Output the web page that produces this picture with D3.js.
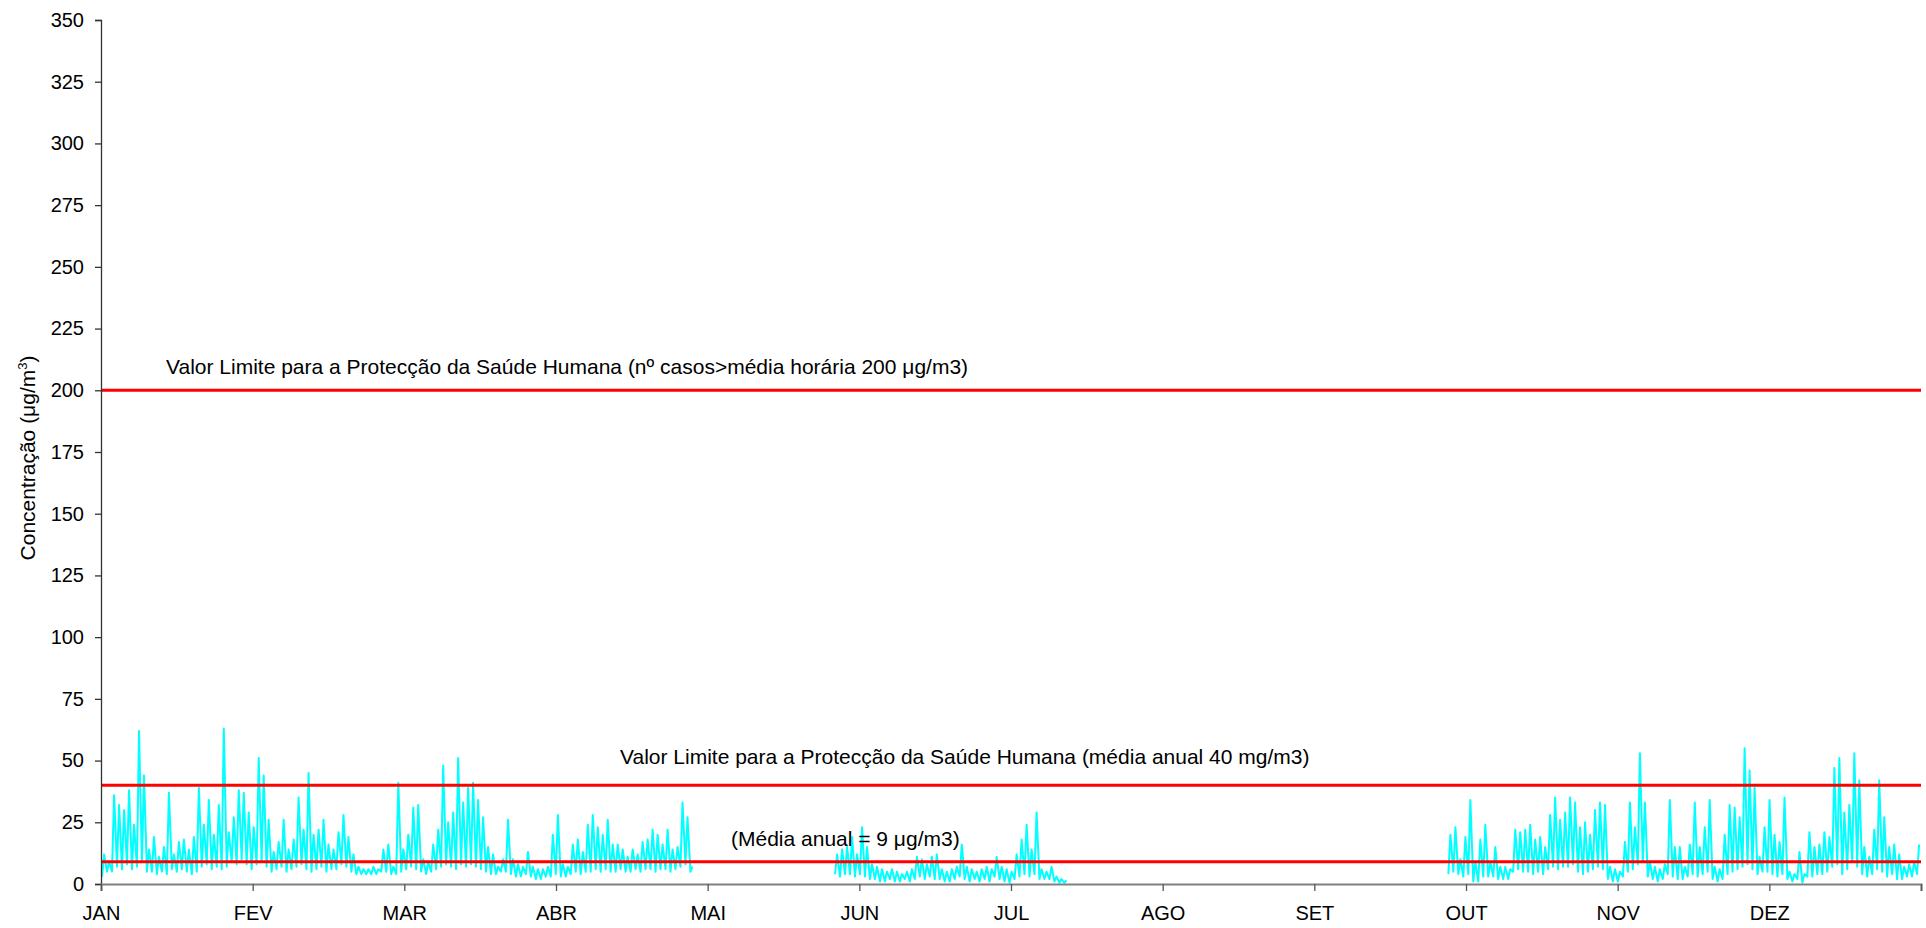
<!DOCTYPE html>
<html>
<head>
<meta charset="utf-8">
<script src="https://cdn.jsdelivr.net/npm/d3@7"></script>
<style>
  html, body { margin: 0; padding: 0; background: #fff; }
  svg text { font-family: "Liberation Sans", Arial, sans-serif; fill: #000; }
</style>
</head>
<body>
<svg id="chart" width="1926" height="928"></svg>
<script>
// ---- Data (daily low / high of hourly concentration) ----
const months = ["JAN","FEV","MAR","ABR","MAI","JUN","JUL","AGO","SET","OUT","NOV","DEZ"];
const yTicks = [0,25,50,75,100,125,150,175,200,225,250,275,300,325,350];

// Segment 1: day 0 .. 118
const seg1StartDay = 0;
const seg1Lo = [3,5,5,7,6,8,6,7,9,5,5,4,5,4,6,5,6,5,4,5,7,8,6,7,6,7,9,8,10,8,
                6,8,9,7,5,6,7,5,6,7,8,6,5,6,7,5,6,6,8,7,5,4,4,4,4,4,5,5,4,4,
                5,6,7,6,5,4,5,6,7,8,7,6,8,7,8,7,6,5,4,4,5,5,4,3,3,4,3,2,2,3,
                3,4,3,3,4,5,4,5,5,6,5,6,5,5,6,5,5,6,5,6,6,5,6,6,5,6,7,8,5];
const seg1Hi = [12,9,36,32,30,38,24,62,44,14,19,11,15,37,12,17,18,14,19,39,24,34,20,32,63,21,27,38,37,29,
                23,51,44,26,13,17,26,14,18,35,22,45,20,22,26,16,14,21,28,19,12,7,6,6,7,6,14,16,7,41,
                14,20,31,32,10,9,16,22,48,25,29,51,33,39,41,34,27,15,12,7,10,26,10,8,7,13,7,6,6,7,
                20,28,8,7,16,18,13,24,28,23,20,26,16,16,14,11,14,12,17,18,22,20,16,22,14,15,33,27,7];

// Segment 2: day 147 .. 193
const seg2StartDay = 147;
const seg2Lo = [4,3,4,4,3,4,3,2,2,1,1,2,1,1,2,1,2,3,2,3,2,2,1,1,2,3,2,1,2,1,
                2,1,3,2,1,0.5,2,3,4,3,4,2,2,2,1,0.5,0.5];
const seg2Hi = [12,14,15,19,12,23,15,8,7,6,5,6,5,4,5,6,11,10,8,11,12,6,5,6,7,16,7,6,5,6,
                7,6,11,7,6,5,12,18,24,14,29,6,5,7,3,2,1.5];

// Segment 3: day 270 .. 364
const seg3StartDay = 270;
const seg3Lo = [4,5,4,3,4,1,1,3,3,3,2,2,2,5,6,5,5,4,5,4,6,7,6,7,7,8,5,4,5,6,
                7,6,2,1,1,3,5,6,8,9,3,2,1,2,4,3,2,2,3,4,3,4,5,2,1,2,4,5,6,7,
                8,6,4,5,5,4,3,4,2,1,2,0.5,3,3,4,4,5,7,8,4,6,9,7,4,3,4,6,5,3,4,
                2,2,3,3,4];
const seg3Hi = [20,23,10,19,34,9,18,24,9,15,7,7,6,22,21,22,24,18,19,15,28,35,26,29,35,33,23,25,20,30,
                33,32,7,6,5,17,33,23,53,33,9,7,6,8,34,15,15,7,16,33,15,23,34,7,6,20,32,31,27,55,
                46,39,11,23,34,20,17,35,5,4,13,4,21,15,16,21,19,47,51,29,32,53,42,15,11,22,42,27,15,16,
                12,7,8,9,16];

// Reference levels
const limitHourly = 200;
const limitAnnual = 40;
const annualMean = 9;
const labelHourly = "Valor Limite para a Protecção da Saúde Humana (nº casos>média horária 200 μg/m3)";
const labelAnnual = "Valor Limite para a Protecção da Saúde Humana (média anual 40 mg/m3)";
const labelMean = "(Média anual = 9 μg/m3)";

// ---- Build hourly-positioned points: low early in the day, high later ----
function toPoints(startDay, lo, hi) {
  const pts = [];
  lo.forEach((v, i) => {
    const d = startDay + i;
    pts.push({h: d * 24 + 5, v: v});
    pts.push({h: d * 24 + 15, v: hi[i]});
  });
  return pts;
}
const segments = [
  toPoints(seg1StartDay, seg1Lo, seg1Hi),
  toPoints(seg2StartDay, seg2Lo, seg2Hi),
  toPoints(seg3StartDay, seg3Lo, seg3Hi)
];

// ---- Layout ----
const svg = d3.select("#chart");
const x0 = 101, x1 = 1921, yTop = 20, yBot = 884;
const x = d3.scaleLinear().domain([0, 8760]).range([x0, x1]);
const y = d3.scaleLinear().domain([0, 350]).range([yBot, yTop]);
const tickFont = 20;
const textFont = 21;

// Data lines
const line = d3.line().x(d => x(d.h)).y(d => y(d.v));
svg.append("g").selectAll("path").data(segments).join("path")
  .attr("d", line)
  .attr("fill", "none")
  .attr("stroke", "#00FFFF")
  .attr("stroke-width", 2)
  .attr("stroke-linejoin", "round");

// Reference lines
svg.append("g").selectAll("line").data([limitHourly, limitAnnual, annualMean]).join("line")
  .attr("x1", x0).attr("x2", x1)
  .attr("y1", d => y(d)).attr("y2", d => y(d))
  .attr("stroke", "#FF0000")
  .attr("stroke-width", 3);

// Y axis
const yAxis = d3.axisLeft(y).tickValues(yTicks).tickSize(6).tickPadding(11);
const gy = svg.append("g").attr("transform", `translate(${x0},0)`).call(yAxis);
gy.select(".domain").attr("stroke", "#333").attr("stroke-width", 1.3);
gy.selectAll(".tick line").attr("stroke", "#333").attr("stroke-width", 1.3);
gy.selectAll(".tick text").attr("font-size", tickFont).attr("font-family", "Liberation Sans, Arial, sans-serif");

// X axis
const xTickVals = d3.range(0, 13).map(i => i * 730);
const xAxis = d3.axisBottom(x).tickValues(xTickVals).tickSize(7).tickPadding(15)
  .tickFormat((d, i) => months[i] || "");
const gx = svg.append("g").attr("transform", `translate(0,${yBot})`).call(xAxis);
gx.select(".domain").attr("stroke", "#808080").attr("stroke-width", 2);
gx.selectAll(".tick line").attr("stroke", "#555").attr("stroke-width", 1.3);
gx.selectAll(".tick text").attr("font-size", tickFont).attr("font-family", "Liberation Sans, Arial, sans-serif");

// Y axis title
const yt = svg.append("text")
  .attr("transform", "translate(35,458) rotate(-90)")
  .attr("text-anchor", "middle")
  .attr("font-size", textFont);
yt.append("tspan").text("Concentração (μg/m");
yt.append("tspan").attr("font-size", 13).attr("dy", -8).text("3");
yt.append("tspan").attr("dy", 8).text(")");

// Annotations
svg.append("text").attr("x", 166).attr("y", 374).attr("font-size", textFont).text(labelHourly);
svg.append("text").attr("x", 620).attr("y", 764).attr("font-size", textFont).text(labelAnnual);
svg.append("text").attr("x", 731).attr("y", 846).attr("font-size", textFont).text(labelMean);
</script>
</body>
</html>
